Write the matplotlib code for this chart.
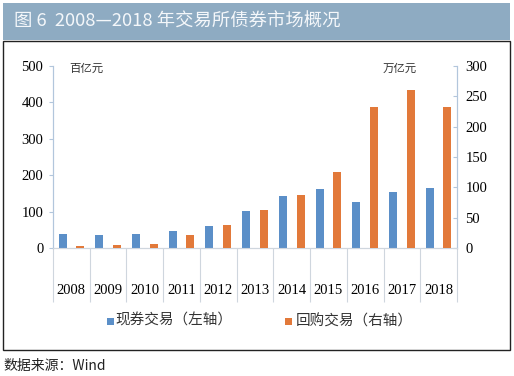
import numpy as np
import matplotlib
matplotlib.use("Agg")
from matplotlib import pyplot as plt
from matplotlib.patches import Rectangle

plt.rcParams['font.family'] = ['Noto Sans CJK SC', 'DejaVu Sans']

years = ['2008', '2009', '2010', '2011', '2012', '2013', '2014', '2015', '2016', '2017', '2018']
spot = [38, 35, 38, 46, 60, 101, 143, 161, 125, 153, 164]      # 现券交易, 百亿元 (左轴)
repo = [3, 5, 7, 22, 38, 63, 88, 126, 233, 260, 232]          # 回购交易, 万亿元 (右轴)
left_ticks = [0, 100, 200, 300, 400, 500]
right_ticks = [0, 50, 100, 150, 200, 250, 300]

blue = '#5b8fc8'
orange = '#e2793a'
spine_col = '#b2c6dc'
sep_col = '#cfd6de'
serif = 'Liberation Serif'

fig = plt.figure(figsize=(5.14, 3.76), dpi=100)
W, H = 514, 376

# title bar and frame
fig.patches.append(Rectangle((3 / W, 1 - 40 / H), 507 / W, 37 / H, transform=fig.transFigure,
                             facecolor='#8eabc2', edgecolor='none'))
fig.patches.append(Rectangle((3 / W, 1 - 350 / H), 507 / W, 309 / H, transform=fig.transFigure,
                             facecolor='none', edgecolor='#222222', linewidth=1.0))
fig.text(14 / W, 1 - 22 / H, '图 6  2008—2018 年交易所债券市场概况', color='#f4f7fa',
         fontsize=13.2, va='center', ha='left')
fig.text(3 / W, 1 - 366 / H, '数据来源：Wind', color='#222222', fontsize=10, va='center', ha='left')

ax = fig.add_axes([53 / W, 1 - 248 / H, 404 / W, 182 / H])
ax2 = ax.twinx()

x = np.arange(len(years))
w = 0.22
ax.bar(x - 0.24, spot, width=w, color=blue, zorder=3)
ax2.bar(x + 0.24, repo, width=w, color=orange, zorder=3)

ax.set_xlim(-0.5, len(years) - 0.5)
ax.set_ylim(0, 500)
ax2.set_ylim(0, 300)
ax.set_yticks(left_ticks)
ax2.set_yticks(right_ticks)
ax.set_yticklabels([str(v) for v in left_ticks], fontfamily=serif, fontsize=10.5)
ax2.set_yticklabels([str(v) for v in right_ticks], fontfamily=serif, fontsize=10.5)

ax.set_xticks(x)
ax.set_xticklabels(years, fontfamily=serif, fontsize=10.5)
ax.set_xticks(np.arange(len(years) + 1) - 0.5, minor=True)
ax.tick_params(axis='x', which='major', length=0, pad=26)
ax.tick_params(axis='x', which='minor', length=39, color=sep_col, width=0.8)
ax.tick_params(axis='y', direction='out', length=3, color=spine_col, pad=4)
ax2.tick_params(axis='y', direction='in', length=3, color=spine_col, pad=6)

for a in (ax, ax2):
    a.spines['top'].set_visible(False)
    a.spines['left'].set_color(spine_col)
    a.spines['right'].set_color(spine_col)
    a.spines['bottom'].set_color(sep_col)
    a.patch.set_visible(False)

ax.text(0.04, 0.985, '百亿元', transform=ax.transAxes, fontsize=8.2, color='#333333', va='center')
ax2.text(0.9, 0.985, '万亿元', transform=ax.transAxes, fontsize=8.2, color='#333333', va='center', ha='right')

# legend
fig.patches.append(Rectangle((107 / W, 1 - 325 / H), 7 / W, 7 / H, transform=fig.transFigure,
                             facecolor=blue, edgecolor='none'))
fig.text(115 / W, 1 - 321 / H, '现券交易（左轴）', fontsize=10.5, color='#333333', va='center')
fig.patches.append(Rectangle((285 / W, 1 - 325 / H), 7 / W, 7 / H, transform=fig.transFigure,
                             facecolor=orange, edgecolor='none'))
fig.text(296 / W, 1 - 321 / H, '回购交易（右轴）', fontsize=10.5, color='#333333', va='center')

fig.savefig('out.png', dpi=100)
